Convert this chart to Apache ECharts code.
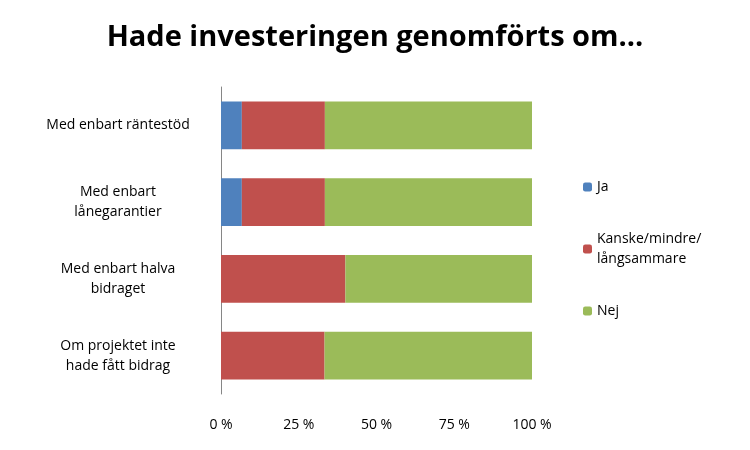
<!DOCTYPE html>
<html lang="sv">
<head>
<meta charset="UTF-8">
<title>Hade investeringen genomförts om...</title>
<style>
    html, body { margin: 0; padding: 0; background: #fff; }
    #chart { width: 750px; height: 450px; }
</style>
</head>
<body>
<div id="chart"></div>
<script src="https://cdn.jsdelivr.net/npm/echarts@6/dist/echarts.min.js"></script>
<script>
    var categories = ['Med enbart räntestöd', 'Med enbart\nlånegarantier', 'Med enbart halva\nbidraget', 'Om projektet inte\nhade fått bidrag'];
    var jaData = [6.7, 6.7, 0, 0];
    var kanskeData = [26.7, 26.7, 40, 33.3];
    var nejData = [66.6, 66.6, 60, 66.7];
    var seriesNames = ['Ja', 'Kanske/mindre/\nlångsammare', 'Nej'];
    var colors = ['#4F81BD', '#C0504D', '#9BBB59'];

    var font = '"Open Sans", "Noto Sans", sans-serif';
    var chart = echarts.init(document.getElementById('chart'));

    function bar(name, data) {
        return { name: name, type: 'bar', stack: 'total', barWidth: '62%', data: data };
    }

    chart.setOption({
        color: colors,
        animation: false,
        title: {
            text: 'Hade investeringen genomförts om...',
            left: 'center',
            top: 18,
            textStyle: { fontFamily: font, fontSize: 29, fontWeight: 'bold', color: '#000' }
        },
        legend: {
            orient: 'vertical',
            left: 578,
            top: 172,
            itemWidth: 9,
            itemHeight: 9,
            itemGap: 32,
            data: seriesNames,
            textStyle: { fontFamily: font, fontSize: 14, color: '#000', lineHeight: 20 }
        },
        grid: { left: 221, right: 218, top: 87, bottom: 56 },
        xAxis: {
            type: 'value',
            min: 0, max: 100, interval: 25,
            axisLabel: { formatter: '{value} %', fontFamily: font, fontSize: 14, color: '#000', margin: 24 },
            axisLine: { show: false },
            axisTick: { show: false },
            splitLine: { show: false }
        },
        yAxis: {
            type: 'category',
            inverse: true,
            data: categories,
            axisLine: { show: true, lineStyle: { color: '#868686' } },
            axisTick: { show: false },
            axisLabel: { fontFamily: font, fontSize: 14, color: '#000', margin: 103, lineHeight: 20, align: 'center' }
        },
        series: [
            bar(seriesNames[0], jaData),
            bar(seriesNames[1], kanskeData),
            bar(seriesNames[2], nejData)
        ]
    });
</script>
</body>
</html>
